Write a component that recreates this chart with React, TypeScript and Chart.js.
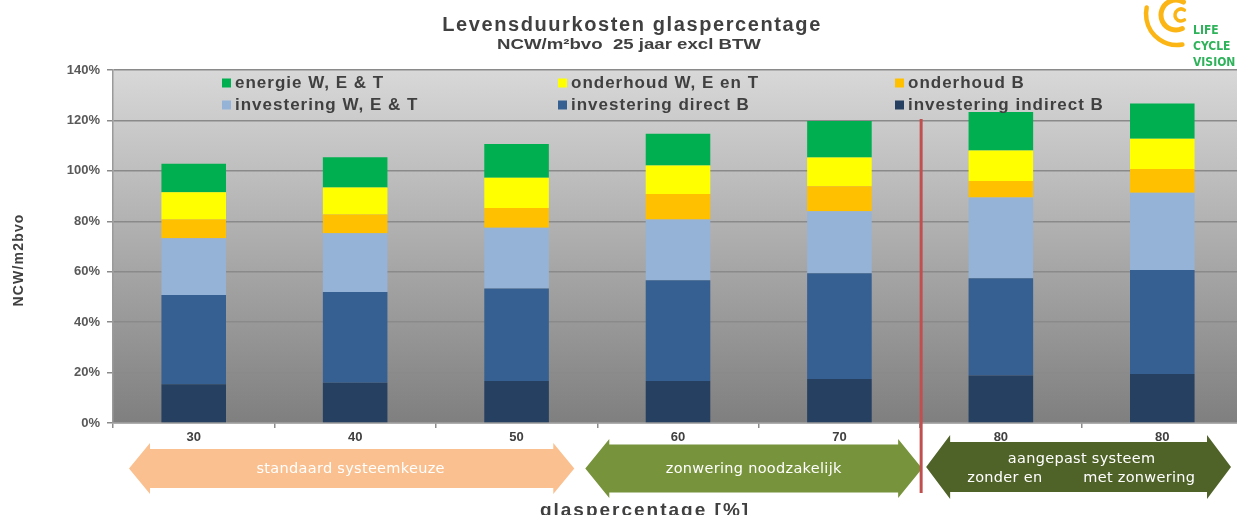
import { useEffect, useRef } from "react";
import { Chart, registerables } from "chart.js";

Chart.register(...registerables);

// ---------- data ----------
const categories = ["30", "40", "50", "60", "70", "80", "80"];
const investeringIndirectB = [15.4, 16.0, 16.7, 16.7, 17.5, 18.8, 19.4];
const investeringDirectB = [35.4, 36.0, 36.6, 39.9, 41.9, 38.6, 41.3];
const investeringWET = [22.5, 23.3, 24.1, 24.1, 24.6, 32.0, 30.6];
const onderhoudB = [7.4, 7.4, 7.9, 10.1, 9.9, 6.6, 9.4];
const onderhoudWET = [10.8, 10.7, 12.0, 11.3, 11.4, 12.1, 12.0];
const energieWET = [11.3, 12.0, 13.4, 12.6, 14.5, 15.2, 14.0];
const yTickValues = [0, 20, 40, 60, 80, 100, 120, 140];

const titleText = "Levensduurkosten glaspercentage";
const subtitleText = "NCW/m²bvo  25 jaar excl BTW";
const yTitleText = "NCW/m2bvo";
const xTitleText = "glaspercentage [%]";
const logoLines = ["LIFE", "CYCLE", "VISION"];
const arrowLabels = ["standaard systeemkeuze", "zonwering noodzakelijk", "aangepast systeem"];
const arrowSubLabels = ["zonder en", "met zonwering"];

// legend order (reading order, 3 columns x 2 rows)
const legendOrder = [
  "energie W, E & T",
  "onderhoud W, E en T",
  "onderhoud B",
  "investering W, E & T",
  "investering direct B",
  "investering indirect B",
];

const FONT = "'Liberation Sans', Arial, Helvetica, sans-serif";

function setSpacing(ctx: any, v: string) {
  try {
    ctx.letterSpacing = v;
  } catch (e) {}
}

function drawArrow(
  ctx: CanvasRenderingContext2D,
  x1: number,
  x2: number,
  cy: number,
  headLen: number,
  headHalf: number,
  bodyHalf: number,
  color: string
) {
  ctx.beginPath();
  ctx.moveTo(x1, cy);
  ctx.lineTo(x1 + headLen, cy - headHalf);
  ctx.lineTo(x1 + headLen, cy - bodyHalf);
  ctx.lineTo(x2 - headLen, cy - bodyHalf);
  ctx.lineTo(x2 - headLen, cy - headHalf);
  ctx.lineTo(x2, cy);
  ctx.lineTo(x2 - headLen, cy + headHalf);
  ctx.lineTo(x2 - headLen, cy + bodyHalf);
  ctx.lineTo(x1 + headLen, cy + bodyHalf);
  ctx.lineTo(x1 + headLen, cy + headHalf);
  ctx.closePath();
  ctx.fillStyle = color;
  ctx.fill();
}

const decorations = {
  id: "decorations",
  beforeDraw(chart: any) {
    const { ctx, chartArea: a } = chart;
    const g = ctx.createLinearGradient(0, a.top, 0, a.bottom);
    g.addColorStop(0, "#d8d8d8");
    g.addColorStop(1, "#7f7f7f");
    ctx.save();
    ctx.fillStyle = g;
    ctx.fillRect(a.left, a.top, a.right - a.left, a.bottom - a.top);
    ctx.restore();
  },
  afterDraw(chart: any) {
    const { ctx } = chart;
    const xs = chart.scales.x;
    const catW = xs.getPixelForValue(1) - xs.getPixelForValue(0);
    const edge = (i: number) => xs.getPixelForValue(i) - catW / 2;

    ctx.save();
    ctx.textBaseline = "middle";
    ctx.textAlign = "center";

    // title + subtitle
    ctx.fillStyle = "#404040";
    ctx.font = `bold 20px ${FONT}`;
    setSpacing(ctx, "1.6px");
    ctx.fillText(titleText, 632, 25);
    setSpacing(ctx, "0px");
    ctx.save();
    ctx.translate(629, 45);
    ctx.scale(1.33, 1);
    ctx.font = `bold 14px ${FONT}`;
    ctx.fillText(subtitleText, 0, 0);
    ctx.restore();

    // logo
    ctx.strokeStyle = "#fbb616";
    ctx.lineCap = "round";
    ctx.lineWidth = 4.5;
    ctx.beginPath();
    ctx.arc(1177, 14, 31, (80 * Math.PI) / 180, (192 * Math.PI) / 180);
    ctx.stroke();
    ctx.lineWidth = 5;
    ctx.beginPath();
    ctx.arc(1176, 15, 15, (65 * Math.PI) / 180, (300 * Math.PI) / 180);
    ctx.stroke();
    ctx.lineWidth = 3.5;
    ctx.beginPath();
    ctx.arc(1181, 15, 6, (55 * Math.PI) / 180, (305 * Math.PI) / 180);
    ctx.stroke();
    ctx.fillStyle = "#2fb35a";
    ctx.textAlign = "left";
    ctx.textBaseline = "alphabetic";
    ctx.font = `bold 12px 'Liberation Sans Narrow', 'DejaVu Sans Condensed', ${FONT}`;
    logoLines.forEach((t, i) => ctx.fillText(t, 1193, 34 + i * 16));

    // legend
    const cols = [222, 558, 895];
    const rows = [83, 105];
    ctx.textBaseline = "middle";
    ctx.font = `bold 17px ${FONT}`;
    setSpacing(ctx, "1px");
    legendOrder.forEach((label, i) => {
      const ds = chart.data.datasets.find((d: any) => d.label === label);
      if (!ds) return;
      const x = cols[i % 3];
      const y = rows[Math.floor(i / 3)];
      ctx.fillStyle = ds.backgroundColor;
      ctx.fillRect(x, y - 4.5, 9, 9);
      ctx.fillStyle = "#404040";
      ctx.fillText(label, x + 13, y);
    });
    setSpacing(ctx, "0px");

    // y title
    ctx.save();
    ctx.translate(19, 260);
    ctx.rotate(-Math.PI / 2);
    ctx.textAlign = "center";
    ctx.font = `bold 14px ${FONT}`;
    setSpacing(ctx, "1.2px");
    ctx.fillStyle = "#404040";
    ctx.fillText(yTitleText, 0, 0);
    ctx.restore();
    setSpacing(ctx, "0px");

    // arrows below the axis
    const peachL = edge(0) + 16;
    const peachR = edge(3) - 23;
    const greenL = edge(3) - 12;
    const greenR = edge(5) + 2;
    const darkL = edge(5) + 6;
    const darkR = edge(7) - 12;
    drawArrow(ctx, peachL, peachR, 468.5, 21, 25.5, 19.5, "#fac090");
    drawArrow(ctx, greenL, greenR, 468.5, 24, 29.5, 24, "#77933c");
    drawArrow(ctx, darkL, darkR, 467, 24, 32, 25, "#4f6228");

    ctx.fillStyle = "#ffffff";
    ctx.textAlign = "center";
    ctx.textBaseline = "middle";
    ctx.font = "14.5px 'DejaVu Sans', Verdana, sans-serif";
    setSpacing(ctx, "0.3px");
    ctx.fillText(arrowLabels[0], (peachL + peachR) / 2 - 1, 469);
    ctx.fillText(arrowLabels[1], (greenL + greenR) / 2, 469);
    ctx.fillText(arrowLabels[2], (darkL + darkR) / 2 + 3, 459);
    ctx.fillText(arrowSubLabels[0], xs.getPixelForValue(5) + 4, 478);
    ctx.fillText(arrowSubLabels[1], xs.getPixelForValue(6) - 23, 478);
    setSpacing(ctx, "0px");

    // red separator
    ctx.strokeStyle = "#c0504d";
    ctx.lineWidth = 3;
    ctx.lineCap = "butt";
    ctx.beginPath();
    const rx = edge(5) + 1;
    ctx.moveTo(rx, 119);
    ctx.lineTo(rx, 493);
    ctx.stroke();

    // x title
    ctx.fillStyle = "#404040";
    ctx.font = `bold 19px ${FONT}`;
    setSpacing(ctx, "2px");
    ctx.textBaseline = "alphabetic";
    ctx.fillText(xTitleText, 645, 516);
    setSpacing(ctx, "0px");

    ctx.restore();
  },
};

export default function App() {
  const ref = useRef<HTMLCanvasElement>(null);

  useEffect(() => {
    const canvas = ref.current;
    if (!canvas) return;
    const chart = new Chart(canvas, {
      type: "bar",
      data: {
        labels: categories,
        datasets: [
          { label: "investering indirect B", data: investeringIndirectB, backgroundColor: "#254061" },
          { label: "investering direct B", data: investeringDirectB, backgroundColor: "#366092" },
          { label: "investering W, E & T", data: investeringWET, backgroundColor: "#95b3d7" },
          { label: "onderhoud B", data: onderhoudB, backgroundColor: "#ffc000" },
          { label: "onderhoud W, E en T", data: onderhoudWET, backgroundColor: "#ffff00" },
          { label: "energie W, E & T", data: energieWET, backgroundColor: "#00b050" },
        ],
      },
      options: {
        animation: false,
        responsive: false,
        devicePixelRatio: 1,
        layout: { padding: { top: 70, right: 2, left: 0, bottom: 0 } },
        datasets: {
          bar: { barPercentage: 0.4, categoryPercentage: 1.0, borderWidth: 0 },
        },
        plugins: {
          legend: { display: false },
          title: { display: false },
          tooltip: { enabled: false },
        },
        scales: {
          x: {
            stacked: true,
            afterFit: (s: any) => {
              s.height = 92;
            },
            grid: {
              offset: true,
              drawOnChartArea: false,
              drawTicks: true,
              tickLength: 5,
              color: "#8c8c8c",
              lineWidth: 1.5,
            },
            border: { color: "#9a9a9a", width: 1.5 },
            ticks: {
              color: "#404040",
              font: { family: FONT, size: 13, weight: "bold" },
              padding: 2,
              maxRotation: 0,
            },
          },
          y: {
            stacked: true,
            min: 0,
            max: 140,
            afterFit: (s: any) => {
              s.width = 113;
            },
            afterBuildTicks: (s: any) => {
              s.ticks = yTickValues.map((v) => ({ value: v }));
            },
            grid: {
              color: "#8a8a8a",
              lineWidth: 1.5,
              tickLength: 6,
              tickColor: "#8a8a8a",
            },
            border: { color: "#9a9a9a", width: 1.5 },
            ticks: {
              color: "#595959",
              font: { family: FONT, size: 13, weight: "bold" },
              padding: 7,
              callback: (v: any) => `${v}%`,
            },
          },
        },
      },
      plugins: [decorations],
    } as any);
    return () => chart.destroy();
  }, []);

  return (
    <div
      style={{
        position: "absolute",
        left: 0,
        top: 0,
        width: 1237,
        height: 515,
        overflow: "hidden",
        background: "#ffffff",
      }}
    >
      <canvas ref={ref} width={1245} height={515} style={{ display: "block", width: 1245, height: 515 }} />
    </div>
  );
}
